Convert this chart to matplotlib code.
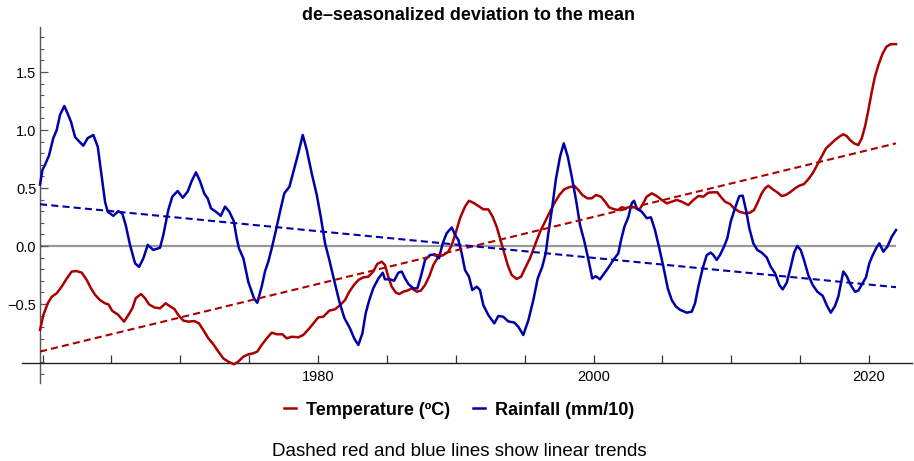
import numpy as np
import matplotlib
matplotlib.use("Agg")
import matplotlib.pyplot as plt
from matplotlib.ticker import FixedLocator

plt.rcParams['font.family'] = ['Liberation Sans', 'DejaVu Sans']

# rainfall (mm/10), de-seasonalized deviation to the mean
rain_years = [1959.82, 1959.99, 1960.18, 1960.47, 1960.78, 1961.03, 1961.27, 1961.58, 1961.83, 1962.07,
              1962.36, 1962.67, 1962.96, 1963.28, 1963.69, 1964.01, 1964.25, 1964.54, 1964.73, 1965.14,
              1965.50, 1965.79, 1966.04, 1966.35, 1966.72, 1967.01, 1967.32, 1967.64, 1968.04, 1968.53,
              1968.77, 1969.13, 1969.42, 1969.81, 1970.18, 1970.54, 1970.83, 1971.14, 1971.43, 1971.75,
              1971.99, 1972.23, 1972.65, 1972.94, 1973.25, 1973.56, 1973.88, 1974.10, 1974.26, 1974.58,
              1974.94, 1975.35, 1975.59, 1975.91, 1976.15, 1976.39, 1976.64, 1976.95, 1977.24, 1977.55,
              1977.92, 1978.21, 1978.57, 1978.89, 1979.18, 1979.54, 1979.91, 1980.20, 1980.51, 1980.82,
              1981.16, 1981.55, 1981.91, 1982.32, 1982.64, 1982.93, 1983.22, 1983.46, 1983.72, 1984.01,
              1984.38, 1984.70, 1984.86, 1985.23, 1985.52, 1985.83, 1986.08, 1986.32, 1986.56, 1986.92,
              1987.21, 1987.46, 1987.77, 1988.13, 1988.49, 1988.78, 1989.05, 1989.34, 1989.71, 1989.95,
              1990.19, 1990.43, 1990.67, 1990.96, 1991.20, 1991.52, 1991.76, 1992.00, 1992.36, 1992.80,
              1993.09, 1993.45, 1993.81, 1994.25, 1994.54, 1994.90, 1995.27, 1995.63, 1995.95, 1996.28,
              1996.53, 1996.72, 1997.01, 1997.26, 1997.57, 1997.84, 1998.13, 1998.42, 1998.73, 1999.02,
              1999.31, 1999.58, 1999.91, 2000.16, 2000.47, 2000.78, 2001.13, 2001.44, 2001.80, 2002.00,
              2002.24, 2002.53, 2002.77, 2002.94, 2003.14, 2003.50, 2003.86, 2004.17, 2004.46, 2004.75,
              2005.07, 2005.39, 2005.68, 2005.97, 2006.28, 2006.59, 2006.77, 2007.13, 2007.37, 2007.61,
              2007.93, 2008.22, 2008.51, 2008.70, 2008.94, 2009.18, 2009.47, 2009.71, 2009.96, 2010.27,
              2010.58, 2010.83, 2011.07, 2011.31, 2011.60, 2011.89, 2012.21, 2012.57, 2012.86, 2013.18,
              2013.49, 2013.73, 2014.03, 2014.32, 2014.56, 2014.79, 2015.04, 2015.28, 2015.59, 2015.91,
              2016.25, 2016.64, 2016.93, 2017.22, 2017.53, 2017.77, 2018.13, 2018.38, 2018.67, 2018.98,
              2019.22, 2019.54, 2019.78, 2020.02, 2020.27, 2020.56, 2020.75, 2021.04, 2021.33, 2021.65,
              2021.96]
rain = [0.53, 0.655, 0.70, 0.78, 0.93, 1.0, 1.13, 1.207, 1.14, 1.07,
        0.94, 0.90, 0.865, 0.93, 0.957, 0.856, 0.64, 0.38, 0.296, 0.26,
        0.30, 0.28, 0.18, 0.01, -0.15, -0.18, -0.106, 0.01, -0.034, -0.015,
        0.095, 0.31, 0.425, 0.474, 0.416, 0.47, 0.56, 0.635, 0.56, 0.45,
        0.41, 0.325, 0.29, 0.26, 0.34, 0.296, 0.216, 0.066, -0.02, -0.106,
        -0.31, -0.45, -0.49, -0.35, -0.22, -0.135, -0.02, 0.138, 0.296, 0.454,
        0.51, 0.64, 0.80, 0.957, 0.83, 0.627, 0.44, 0.25, 0.023, -0.12,
        -0.29, -0.48, -0.62, -0.71, -0.80, -0.853, -0.753, -0.58, -0.466, -0.365,
        -0.28, -0.23, -0.287, -0.287, -0.30, -0.23, -0.22, -0.28, -0.328, -0.365,
        -0.365, -0.265, -0.12, -0.078, -0.072, -0.106, 0.023, 0.11, 0.16, 0.095,
        0.052, -0.063, -0.207, -0.265, -0.38, -0.35, -0.38, -0.51, -0.595, -0.667,
        -0.603, -0.61, -0.65, -0.66, -0.696, -0.767, -0.64, -0.466, -0.28, -0.178,
        -0.063, 0.11, 0.34, 0.57, 0.77, 0.885, 0.77, 0.597, 0.397, 0.18,
        0.052, -0.09, -0.28, -0.26, -0.287, -0.236, -0.178, -0.12, -0.063, 0.052,
        0.166, 0.25, 0.368, 0.39, 0.325, 0.296, 0.24, 0.247, 0.138, -0.006,
        -0.178, -0.365, -0.466, -0.52, -0.55, -0.566, -0.575, -0.566, -0.494, -0.35,
        -0.19, -0.078, -0.057, -0.078, -0.12, -0.078, -0.006, 0.066, 0.21, 0.325,
        0.43, 0.434, 0.31, 0.153, 0.023, -0.034, -0.057, -0.098, -0.178, -0.236,
        -0.336, -0.374, -0.316, -0.178, -0.057, 0.0, -0.034, -0.12, -0.25, -0.336,
        -0.394, -0.43, -0.51, -0.575, -0.517, -0.437, -0.22, -0.26, -0.336, -0.394,
        -0.385, -0.32, -0.27, -0.15, -0.078, -0.01, 0.023, -0.049, -0.006, 0.08,
        0.138]

# temperature (ºC), de-seasonalized deviation to the mean
temp_years = [1959.82, 1960.06, 1960.38, 1960.67, 1961.03, 1961.39, 1961.76, 1962.12, 1962.48, 1962.85,
              1963.21, 1963.52, 1963.81, 1964.17, 1964.54, 1964.78, 1965.07, 1965.46, 1965.70, 1965.92,
              1966.23, 1966.52, 1966.77, 1967.15, 1967.44, 1967.73, 1968.12, 1968.53, 1968.94, 1969.26,
              1969.57, 1969.86, 1970.22, 1970.58, 1971.02, 1971.36, 1971.67, 1972.04, 1972.40, 1972.76,
              1973.13, 1973.49, 1973.90, 1974.21, 1974.58, 1974.94, 1975.30, 1975.59, 1975.91, 1976.28,
              1976.64, 1977.00, 1977.41, 1977.73, 1978.09, 1978.57, 1978.93, 1979.37, 1979.66, 1980.02,
              1980.38, 1980.82, 1981.23, 1981.60, 1981.96, 1982.27, 1982.61, 1982.93, 1983.29, 1983.65,
              1984.01, 1984.30, 1984.62, 1984.86, 1985.10, 1985.35, 1985.64, 1985.90, 1986.19, 1986.48,
              1986.80, 1987.17, 1987.46, 1987.77, 1988.08, 1988.37, 1988.73, 1989.10, 1989.46, 1989.71,
              1990.02, 1990.31, 1990.67, 1990.96, 1991.27, 1991.64, 1992.00, 1992.36, 1992.65, 1992.97,
              1993.28, 1993.52, 1993.77, 1994.06, 1994.42, 1994.74, 1995.03, 1995.39, 1995.75, 1996.12,
              1996.48, 1996.84, 1997.15, 1997.52, 1997.88, 1998.22, 1998.61, 1998.90, 1999.19, 1999.55,
              1999.87, 2000.18, 2000.54, 2000.84, 2001.13, 2001.44, 2001.76, 2002.05, 2002.34, 2002.65,
              2002.96, 2003.30, 2003.54, 2003.86, 2004.23, 2004.59, 2004.95, 2005.31, 2005.68, 2006.04,
              2006.40, 2006.88, 2007.25, 2007.61, 2007.97, 2008.33, 2008.70, 2008.99, 2009.23, 2009.55,
              2009.91, 2010.20, 2010.58, 2011.00, 2011.36, 2011.65, 2011.89, 2012.21, 2012.45, 2012.69,
              2013.01, 2013.34, 2013.66, 2013.97, 2014.32, 2014.63, 2014.94, 2015.28, 2015.59, 2015.91,
              2016.20, 2016.49, 2016.88, 2017.22, 2017.53, 2017.84, 2018.13, 2018.38, 2018.62, 2018.91,
              2019.22, 2019.47, 2019.71, 2019.95, 2020.20, 2020.43, 2020.68, 2020.99, 2021.28, 2021.57,
              2021.96]
temp = [-0.724, -0.595, -0.494, -0.437, -0.408, -0.35, -0.28, -0.22, -0.216, -0.23,
        -0.293, -0.365, -0.42, -0.466, -0.494, -0.503, -0.56, -0.59, -0.623, -0.652,
        -0.595, -0.537, -0.45, -0.414, -0.45, -0.503, -0.53, -0.537, -0.494, -0.52,
        -0.543, -0.595, -0.643, -0.652, -0.647, -0.667, -0.724, -0.796, -0.847, -0.91,
        -0.97, -0.997, -1.02, -0.997, -0.954, -0.934, -0.925, -0.91, -0.853, -0.796,
        -0.747, -0.761, -0.761, -0.796, -0.782, -0.787, -0.767, -0.71, -0.667, -0.615,
        -0.61, -0.557, -0.546, -0.51, -0.466, -0.394, -0.336, -0.293, -0.27, -0.265,
        -0.22, -0.155, -0.135, -0.164, -0.265, -0.35, -0.40, -0.414, -0.394, -0.385,
        -0.365, -0.394, -0.385, -0.336, -0.26, -0.164, -0.092, -0.078, -0.049, 0.009,
        0.123, 0.24, 0.34, 0.39, 0.373, 0.345, 0.316, 0.316, 0.259, 0.166,
        0.037, -0.063, -0.164, -0.25, -0.284, -0.265, -0.192, -0.106, 0.009, 0.123,
        0.21, 0.296, 0.368, 0.44, 0.489, 0.506, 0.517, 0.483, 0.44, 0.411,
        0.411, 0.44, 0.425, 0.382, 0.334, 0.319, 0.31, 0.334, 0.325, 0.34,
        0.334, 0.31, 0.353, 0.425, 0.454, 0.431, 0.397, 0.368, 0.382, 0.397,
        0.382, 0.353, 0.397, 0.431, 0.425, 0.46, 0.463, 0.463, 0.425, 0.382,
        0.362, 0.325, 0.296, 0.282, 0.287, 0.31, 0.368, 0.454, 0.497, 0.52,
        0.489, 0.463, 0.431, 0.44, 0.468, 0.497, 0.52, 0.534, 0.575, 0.627,
        0.69, 0.756, 0.842, 0.879, 0.914, 0.942, 0.963, 0.948, 0.914, 0.885,
        0.87, 0.928, 1.03, 1.17, 1.33, 1.46, 1.56, 1.66, 1.72, 1.74,
        1.74]

# linear trends (end points)
trend_years = [1959.82, 2021.96]
temp_trend = [-0.91, 0.885]
rain_trend = [0.36, -0.355]

RED = '#aa0000'
BLUE = '#0000aa'
AXIS = '#555555'

fig = plt.figure(figsize=(9.14, 4.61), dpi=100)
ax = fig.add_axes([22 / 914, 1 - 383 / 461, 890 / 914, 356 / 461])

ax.hlines(0, temp_years[0], temp_years[-1], color='#999999', lw=1.6, zorder=1)
ax.plot(temp_years, temp, color=RED, lw=1.8, zorder=3, label='Temperature (ºC)')
ax.plot(rain_years, rain, color=BLUE, lw=1.8, zorder=4, label='Rainfall (mm/10)')
ax.plot(trend_years, temp_trend, color=RED, lw=1.5, ls=(0, (3.4, 2.0)), zorder=5)
ax.plot(trend_years, rain_trend, color=BLUE, lw=1.5, ls=(0, (3.4, 2.0)), zorder=5)

ax.set_xlim(1958.51, 2023.12)
ax.set_ylim(-1.181, 1.888)

for side in ['top', 'right']:
    ax.spines[side].set_visible(False)
ax.spines['left'].set_position(('data', 1959.85))
ax.spines['bottom'].set_position(('data', -1.011))
ax.spines['left'].set_color(AXIS)
ax.spines['bottom'].set_color('#222222')
for side in ['left', 'bottom']:
    ax.spines[side].set_linewidth(1.0)

ax.xaxis.set_major_locator(FixedLocator([1980, 2000, 2020]))
ax.xaxis.set_minor_locator(FixedLocator(list(range(1960, 2021, 5))))
ax.set_xticklabels(['1980', '2000', '2020'])
ax.tick_params(axis='x', which='both', direction='in', length=5.5, width=0.9,
               color='#333333', labelsize=10.5, pad=5)

ax.yaxis.set_major_locator(FixedLocator([-0.5, 0.0, 0.5, 1.0, 1.5]))
ax.set_yticklabels(['\u22120.5', '0.0', '0.5', '1.0', '1.5'])
ax.yaxis.set_minor_locator(FixedLocator(np.round(np.arange(-1.1, 1.85, 0.1), 1)))
ax.tick_params(axis='y', which='major', direction='in', length=5.5, width=0.9,
               color=AXIS, labelsize=10.5, pad=3)
ax.tick_params(axis='y', which='minor', direction='in', length=3.2, width=0.8,
               color=AXIS)

fig.text(468 / 914, 1 - 16 / 461, 'de\u2013seasonalized deviation to the mean',
         ha='center', va='center', fontsize=13, fontweight='bold')

fig.legend(loc='center', bbox_to_anchor=(459 / 914, 1 - 410 / 461), ncol=2,
           frameon=False, handlelength=0.65, handletextpad=0.55, columnspacing=1.3,
           prop={'size': 13, 'weight': 'bold'})

fig.text(459 / 914, 1 - 451 / 461, 'Dashed red and blue lines show linear trends',
         ha='center', va='center', fontsize=13.5)

fig.savefig('out.png', dpi=100)
